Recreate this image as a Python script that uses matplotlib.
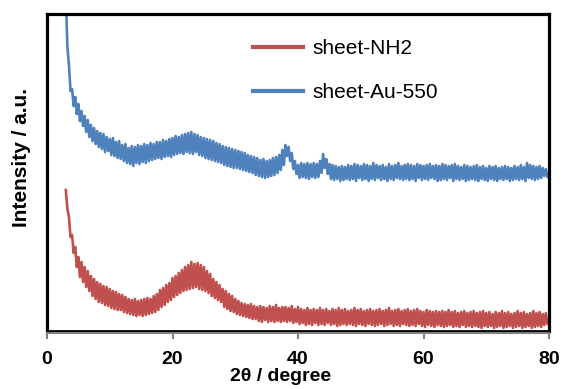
import numpy as np
import matplotlib
matplotlib.use("Agg")
import matplotlib.pyplot as plt

plt.rcParams['font.family'] = ['Liberation Sans', 'DejaVu Sans']

# 2-theta sampling grid (degrees)
two_theta = np.arange(3.0, 80.0001, 0.25)

# intensities (a.u.)
sheet_au_550 = [
    335, 284, 266, 240, 242, 225, 234, 217, 227, 210, 220, 205, 215, 199, 211, 194, 206, 190, 203, 187,
    200, 184, 198, 182, 197, 179, 194, 180, 192, 176, 193, 175, 189, 173, 190, 172, 186, 170, 187, 168,
    183, 167, 185, 165, 184, 168, 186, 167, 185, 169, 187, 168, 186, 170, 188, 171, 187, 172, 189, 173,
    189, 172, 191, 174, 190, 175, 192, 174, 193, 176, 195, 177, 194, 178, 196, 177, 197, 179, 198, 178,
    199, 177, 197, 179, 196, 176, 194, 175, 193, 173, 192, 172, 191, 171, 190, 170, 188, 169, 187, 168,
    185, 166, 184, 165, 183, 164, 182, 163, 181, 163, 180, 162, 179, 161, 178, 160, 176, 159, 175, 158,
    174, 156, 173, 155, 171, 154, 172, 153, 170, 154, 171, 155, 173, 156, 174, 158, 176, 161, 181, 166,
    186, 175, 184, 170, 178, 162, 170, 157, 166, 153, 168, 154, 167, 153, 168, 152, 167, 154, 168, 153,
    167, 154, 170, 158, 177, 163, 172, 157, 167, 152, 166, 151, 165, 152, 164, 150, 165, 151, 164, 152,
    166, 151, 165, 152, 167, 150, 166, 153, 165, 151, 167, 152, 166, 150, 165, 152, 168, 151, 166, 153,
    165, 151, 166, 152, 164, 150, 167, 152, 165, 151, 166, 153, 168, 152, 165, 151, 166, 152, 167, 151,
    166, 152, 165, 150, 167, 153, 166, 151, 165, 152, 166, 151, 167, 153, 165, 152, 166, 150, 165, 151,
    167, 152, 166, 151, 165, 153, 166, 150, 167, 152, 165, 151, 164, 152, 166, 150, 165, 151, 164, 152,
    165, 151, 166, 150, 164, 152, 165, 151, 163, 150, 165, 152, 164, 151, 165, 150, 163, 152, 164, 151,
    165, 152, 164, 150, 163, 151, 165, 152, 164, 151, 166, 152, 164, 150, 168, 153, 166, 152, 165, 151,
    164, 152, 165, 153, 163, 155, 162, 154, 158,
]

sheet_nh2 = [
    141, 122, 114, 94, 96, 78, 84, 64, 74, 54, 69, 49, 64, 44, 60, 40, 55, 35, 52, 32,
    49, 29, 47, 28, 45, 26, 44, 25, 42, 23, 40, 22, 39, 21, 37, 21, 36, 19, 34, 18,
    32, 17, 31, 16, 32, 15, 30, 16, 31, 15, 32, 16, 33, 17, 32, 18, 35, 19, 37, 21,
    41, 24, 43, 26, 46, 29, 48, 31, 53, 34, 55, 36, 58, 38, 61, 40, 64, 41, 66, 42,
    69, 43, 67, 44, 68, 42, 66, 41, 64, 40, 60, 38, 57, 35, 52, 33, 49, 31, 46, 29,
    42, 24, 40, 22, 37, 20, 35, 19, 32, 17, 30, 16, 28, 15, 27, 14, 26, 13, 27, 12,
    25, 12, 24, 10, 25, 9, 24, 11, 23, 9, 25, 10, 24, 9, 26, 10, 23, 9, 24, 10,
    24, 9, 23, 10, 25, 8, 22, 9, 24, 7, 22, 8, 21, 6, 23, 7, 21, 6, 22, 8,
    21, 6, 23, 7, 21, 6, 22, 8, 20, 6, 22, 7, 21, 5, 23, 6, 21, 7, 22, 6,
    20, 7, 21, 6, 23, 5, 21, 7, 22, 6, 20, 5, 21, 7, 22, 6, 20, 5, 21, 6,
    22, 7, 20, 5, 21, 6, 23, 7, 20, 5, 21, 6, 22, 5, 20, 7, 21, 6, 22, 5,
    20, 6, 21, 5, 22, 7, 20, 5, 19, 4, 21, 6, 20, 5, 19, 4, 20, 6, 19, 5,
    20, 4, 19, 5, 21, 6, 19, 4, 20, 5, 18, 4, 19, 6, 20, 4, 18, 5, 19, 4,
    20, 5, 18, 4, 19, 3, 20, 5, 18, 4, 19, 5, 17, 3, 19, 4, 18, 5, 20, 3,
    18, 4, 19, 5, 17, 3, 18, 4, 20, 5, 18, 3, 19, 4, 17, 5, 18, 3, 20, 4,
    18, 5, 19, 4, 17, 6, 18, 7, 10,
]

x_ticks = [0, 20, 40, 60, 80]
labels = ["sheet-NH2", "sheet-Au-550"]
colors = ["#C0504D", "#4F81BD"]

W, H = 563, 389
fig = plt.figure(figsize=(W / 100, H / 100), dpi=100)
ax = fig.add_axes([47 / W, 1 - 331 / H, (549 - 47) / W, (331 - 14) / H])

ax.plot(two_theta, sheet_nh2, color=colors[0], lw=1.9, label=labels[0])
ax.plot(two_theta, sheet_au_550, color=colors[1], lw=1.9, label=labels[1])

for s in ['left', 'top', 'right']:
    ax.spines[s].set_color('black')
    ax.spines[s].set_linewidth(2.3)
ax.spines['bottom'].set_color('#808080')
ax.spines['bottom'].set_linewidth(1.5)
ax.spines['bottom'].set_position(('outward', 1.5))
ax.axhline(0, color='black', lw=2.0, clip_on=False)

ax.set_xlim(0, 80)
ax.set_ylim(0, 317)
ax.set_yticks([])
ax.tick_params(axis='x', direction='out', length=4, width=1.5, color='#808080',
               pad=9, labelsize=14)
ax.set_xticks(x_ticks)
ax.set_xticklabels([str(t) for t in x_ticks], fontsize=14, fontweight='bold')

ax.set_xlabel("2θ / degree", fontsize=14, fontweight='bold')
ax.xaxis.set_label_coords((281 - 47) / (549 - 47), (331 - 368) / 317)
ax.set_ylabel("Intensity / a.u.", fontsize=15, fontweight='bold')
ax.yaxis.set_label_coords((31 - 47) / (549 - 47), (331 - 158) / (331 - 14))

leg = ax.legend(loc='upper left', bbox_to_anchor=(253 / W, 1 - 39 / H),
                bbox_transform=fig.transFigure, frameon=False, fontsize=15,
                borderpad=0, borderaxespad=0, handlelength=2.4,
                handletextpad=0.45, labelspacing=1.2)
for line in leg.get_lines():
    line.set_linewidth(3)

fig.savefig("out.png", dpi=100)
